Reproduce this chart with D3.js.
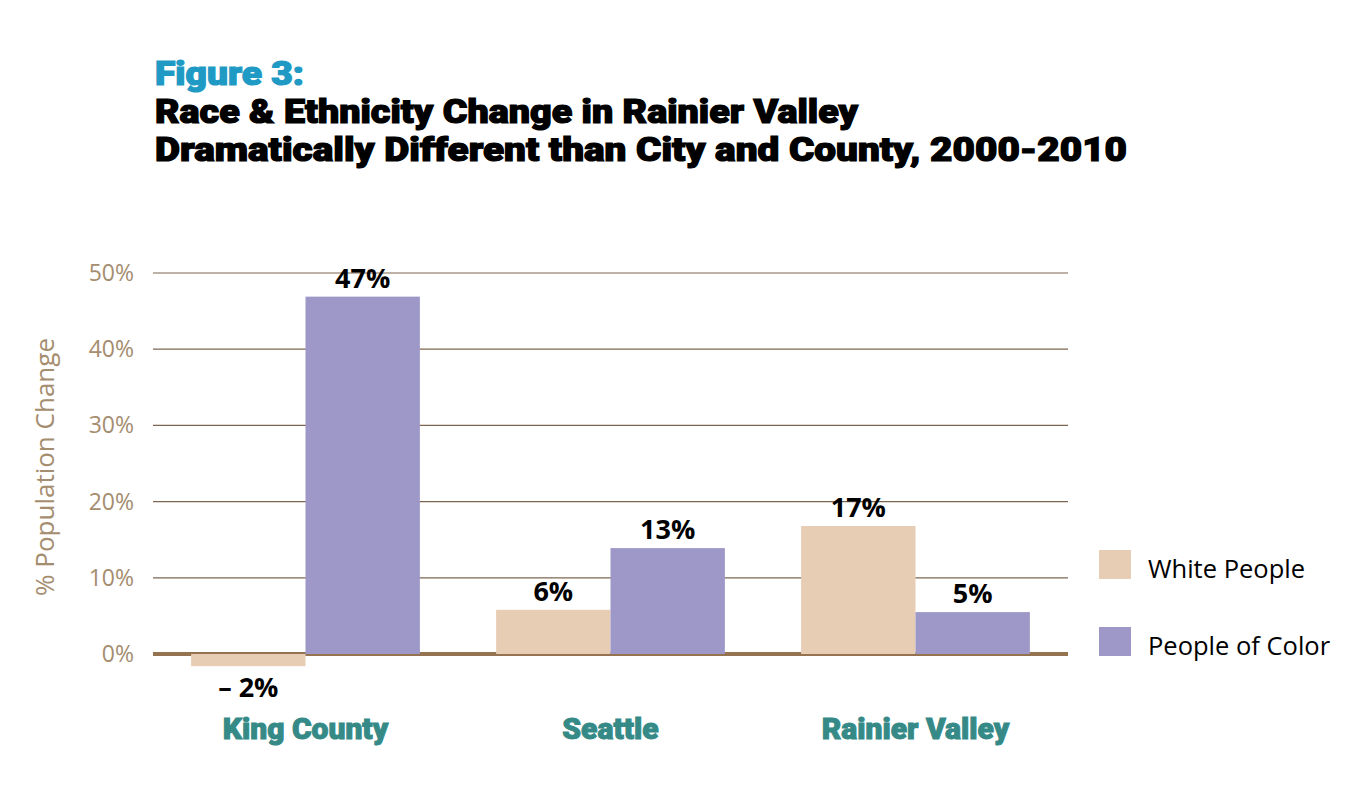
<!DOCTYPE html>
<html>
<head>
<meta charset="utf-8">
<script src="https://cdn.jsdelivr.net/npm/d3@7"></script>
<style>
  body { margin: 0; background: #fff; }
  svg { display: block; }
</style>
</head>
<body>
<div id="chart"></div>
<script>
// data
const regions = ['King County', 'Seattle', 'Rainier Valley'];
const series = ['White People', 'People of Color'];
const whiteValues = [-1.6, 5.8, 16.8];
const colorValues = [46.9, 13.9, 5.5];
const whiteLabels = ['– 2%', '6%', '17%'];
const colorLabels = ['47%', '13%', '5%'];
const yTicks = [0, 10, 20, 30, 40, 50];

const width = 1364;
const height = 792;
const margin = { top: 273, right: 296, bottom: 138, left: 153 };

const svg = d3.select('#chart').append('svg')
    .attr('width', width)
    .attr('height', height);

const colors = d3.scaleOrdinal().domain(series).range(['#e8cdb5', '#9d98c8']);

const x0 = d3.scaleBand()
    .domain(regions)
    .range([margin.left, width - margin.right])
    .paddingInner(0.25)
    .paddingOuter(0.125);

const x1 = d3.scaleBand()
    .domain(series)
    .range([0, x0.bandwidth()]);

const y = d3.scaleLinear()
    .domain([0, 50])
    .range([654, 273]);

// titles - heavy condensed look: bold + stroke, squeezed to the measured widths
const title = svg.append('g')
    .attr('font-family', 'Roboto, sans-serif')
    .attr('font-weight', 900)
    .attr('font-size', 33)
    .attr('stroke-width', 1.2);
title.append('text')
    .attr('x', 155).attr('y', 85)
    .attr('fill', '#1f9ac4').attr('stroke', '#1f9ac4')
    .attr('textLength', 149).attr('lengthAdjust', 'spacingAndGlyphs')
    .text('Figure 3:');
title.append('text')
    .attr('x', 155).attr('y', 123)
    .attr('fill', '#000').attr('stroke', '#000')
    .attr('textLength', 703).attr('lengthAdjust', 'spacingAndGlyphs')
    .text('Race & Ethnicity Change in Rainier Valley');
title.append('text')
    .attr('x', 155).attr('y', 161)
    .attr('fill', '#000').attr('stroke', '#000')
    .attr('textLength', 972).attr('lengthAdjust', 'spacingAndGlyphs')
    .text('Dramatically Different than City and County, 2000-2010');

// gridlines
svg.append('g')
    .selectAll('line')
    .data(yTicks.filter(d => d > 0))
    .enter().append('line')
    .attr('x1', margin.left).attr('x2', width - margin.right)
    .attr('y1', d => y(d)).attr('y2', d => y(d))
    .attr('stroke', '#7e6650')
    .attr('stroke-width', 1.2);

// y tick labels
svg.append('g')
    .selectAll('text')
    .data(yTicks)
    .enter().append('text')
    .attr('x', 134)
    .attr('y', d => y(d) + 8)
    .attr('text-anchor', 'end')
    .attr('font-family', 'Open Sans, sans-serif')
    .attr('font-size', 23)
    .attr('fill', '#a58d6f')
    .text(d => d + '%');

svg.append('text')
    .attr('transform', 'translate(54,467) rotate(-90)')
    .attr('text-anchor', 'middle')
    .attr('font-family', 'Open Sans, sans-serif')
    .attr('font-size', 26)
    .attr('fill', '#a58d6f')
    .text('% Population Change');

// baseline
svg.append('line')
    .attr('x1', margin.left).attr('x2', width - margin.right)
    .attr('y1', y(0)).attr('y2', y(0))
    .attr('stroke', '#957350')
    .attr('stroke-width', 4);

// bars
const rows = regions.map((r, i) => ({
    region: r,
    items: [
        { key: series[0], value: whiteValues[i], label: whiteLabels[i] },
        { key: series[1], value: colorValues[i], label: colorLabels[i] }
    ]
}));

const groups = svg.append('g')
    .selectAll('g')
    .data(rows)
    .enter().append('g')
    .attr('transform', d => 'translate(' + x0(d.region) + ',0)');

groups.selectAll('rect')
    .data(d => d.items)
    .enter().append('rect')
    .attr('x', d => x1(d.key))
    .attr('width', x1.bandwidth())
    .attr('y', d => y(Math.max(0, d.value)))
    .attr('height', d => Math.abs(y(d.value) - y(0)))
    .attr('fill', d => colors(d.key));

groups.selectAll('text')
    .data(d => d.items)
    .enter().append('text')
    .attr('x', d => x1(d.key) + x1.bandwidth() / 2)
    .attr('y', d => d.value < 0 ? y(d.value) + 31 : y(d.value) - 9)
    .attr('text-anchor', 'middle')
    .attr('font-family', 'Open Sans, sans-serif')
    .attr('font-weight', 700)
    .attr('font-size', 27)
    .attr('fill', '#000')
    .text(d => d.label);

// category labels
svg.append('g')
    .selectAll('text')
    .data(regions)
    .enter().append('text')
    .attr('x', d => x0(d) + x0.bandwidth() / 2)
    .attr('y', 739)
    .attr('text-anchor', 'middle')
    .attr('font-family', 'Roboto, sans-serif')
    .attr('font-weight', 900)
    .attr('font-size', 30)
    .attr('fill', '#358a87')
    .attr('stroke', '#358a87')
    .attr('stroke-width', 1)
    .text(d => d);

// legend
const legend = svg.append('g')
    .selectAll('g')
    .data(series)
    .enter().append('g')
    .attr('transform', (d, i) => 'translate(1099,' + (550 + i * 77) + ')');

legend.append('rect')
    .attr('width', 32).attr('height', 29)
    .attr('fill', d => colors(d));

legend.append('text')
    .attr('x', 49).attr('y', 28)
    .attr('font-family', 'Open Sans, sans-serif')
    .attr('font-size', 25.5)
    .attr('fill', '#000')
    .text(d => d);
</script>
</body>
</html>
